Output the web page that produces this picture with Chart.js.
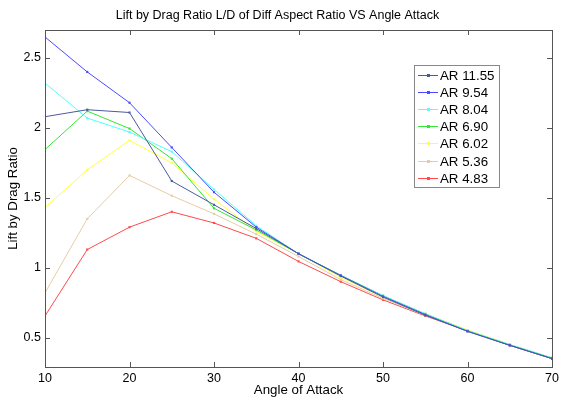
<!DOCTYPE html>
<html>
<head>
<meta charset="utf-8">
<script src="https://cdn.jsdelivr.net/npm/chart.js@4"></script>
<style>
  html, body { margin: 0; padding: 0; background: #fff; }
  #wrap { width: 563px; height: 402px; }
</style>
</head>
<body>
<div id="wrap"><canvas id="chart" width="563" height="402"></canvas></div>
<script>
// angle of attack (deg)
const angles = [10, 15, 20, 25, 30, 35, 40, 45, 50, 55, 60, 65, 70];

// L/D for each aspect ratio
const ar1155 = [2.08, 2.13, 2.11, 1.62, 1.45, 1.28, 1.10, 0.94, 0.79, 0.66, 0.545, 0.445, 0.35];
const ar954  = [2.65, 2.40, 2.18, 1.86, 1.54, 1.29, 1.10, 0.945, 0.795, 0.665, 0.545, 0.445, 0.35];
const ar804  = [2.32, 2.07, 1.97, 1.83, 1.56, 1.30, 1.10, 0.945, 0.80, 0.67, 0.55, 0.45, 0.355];
const ar690  = [1.845, 2.12, 1.995, 1.78, 1.425, 1.27, 1.10, 0.945, 0.80, 0.67, 0.55, 0.45, 0.355];
const ar602  = [1.43, 1.70, 1.91, 1.75, 1.49, 1.26, 1.10, 0.93, 0.79, 0.67, 0.555, 0.45, 0.355];
const ar536  = [0.82, 1.35, 1.66, 1.515, 1.385, 1.24, 1.08, 0.915, 0.78, 0.66, 0.55, 0.445, 0.35];
const ar483  = [0.655, 1.13, 1.29, 1.40, 1.32, 1.21, 1.045, 0.90, 0.77, 0.655, 0.55, 0.445, 0.35];

const seriesLabels = ['AR 11.55', 'AR 9.54', 'AR 8.04', 'AR 6.90', 'AR 6.02', 'AR 5.36', 'AR 4.83'];
const seriesValues = [ar1155, ar954, ar804, ar690, ar602, ar536, ar483];
const seriesColors = ['#4b5a9e', '#4a4aff', '#55ffff', '#33e633', '#ffff40', '#e6cca6', '#ff4a4a'];

const yTickValues = [0.5, 1, 1.5, 2, 2.5];
const xTickValues = [10, 20, 30, 40, 50, 60, 70];

const FONT = '"Liberation Sans", Arial, sans-serif';
const AXIS = '#555';

// MATLAB style box with inward ticks
const boxPlugin = {
  id: 'matlabBox',
  afterDraw: (chart) => {
    const ctx = chart.ctx;
    const { left, right, top, bottom } = chart.chartArea;
    const xs = chart.scales.x, ys = chart.scales.y;
    ctx.save();
    ctx.strokeStyle = AXIS;
    ctx.lineWidth = 1;
    ctx.strokeRect(Math.round(left) + 0.5, Math.round(top) + 0.5,
      Math.round(right - left), Math.round(bottom - top));
    ctx.beginPath();
    xTickValues.forEach(v => {
      const px = Math.round(xs.getPixelForValue(v)) + 0.5;
      ctx.moveTo(px, bottom); ctx.lineTo(px, bottom - 5);
      ctx.moveTo(px, top); ctx.lineTo(px, top + 5);
    });
    yTickValues.forEach(v => {
      const py = Math.round(ys.getPixelForValue(v)) + 0.5;
      ctx.moveTo(left, py); ctx.lineTo(left + 5, py);
      ctx.moveTo(right, py); ctx.lineTo(right - 5, py);
    });
    ctx.stroke();
    ctx.restore();
  }
};

// legend box inside the axes
const legendPlugin = {
  id: 'insideLegend',
  afterDraw: (chart) => {
    const ctx = chart.ctx;
    const bx = 414, by = 65, bw = 85, bh = 122;
    ctx.save();
    ctx.fillStyle = '#fff';
    ctx.fillRect(bx, by, bw, bh);
    ctx.strokeStyle = '#888';
    ctx.lineWidth = 1;
    ctx.strokeRect(bx + 0.5, by + 0.5, bw, bh);
    ctx.font = '13.3px ' + FONT;
    ctx.textBaseline = 'middle';
    chart.data.datasets.forEach((ds, i) => {
      const y = Math.round(by + 10 + i * 17.1) + 0.5;
      ctx.strokeStyle = ds.borderColor;
      ctx.beginPath();
      ctx.moveTo(bx + 4, y); ctx.lineTo(bx + 24, y);
      ctx.stroke();
      ctx.fillStyle = ds.borderColor;
      ctx.fillRect(bx + 13, y - 1.5, 3, 3);
      ctx.fillStyle = '#000';
      ctx.fillText(ds.label, bx + 26, y + 1);
    });
    ctx.restore();
  }
};

const datasets = seriesLabels.map((label, i) => ({
  label: label,
  data: angles.map((a, j) => ({ x: a, y: seriesValues[i][j] })),
  borderColor: seriesColors[i],
  backgroundColor: seriesColors[i],
  borderWidth: 1,
  pointStyle: 'rect',
  pointRadius: 1.5,
  pointBorderWidth: 0,
  tension: 0
}));

new Chart(document.getElementById('chart').getContext('2d'), {
  type: 'line',
  data: { datasets: datasets },
  options: {
    responsive: false,
    animation: false,
    layout: { padding: { left: 0, right: 8, top: 0, bottom: 0 } },
    plugins: {
      legend: { display: false },
      tooltip: { enabled: false },
      title: {
        display: true,
        text: 'Lift by Drag Ratio L/D of Diff Aspect Ratio VS Angle Attack',
        color: '#000',
        font: { family: FONT, size: 12.5, weight: 'normal' },
        padding: { top: 8, bottom: 7 }
      }
    },
    scales: {
      x: {
        type: 'linear',
        min: 10,
        max: 70,
        afterBuildTicks: (scale) => { scale.ticks = xTickValues.map(v => ({ value: v })); },
        afterFit: (scale) => { scale.height = 35; },
        grid: { display: false, drawTicks: false },
        border: { display: false },
        ticks: {
          color: '#000',
          padding: 4,
          maxRotation: 0,
          font: { family: FONT, size: 12.5 },
          callback: (v) => String(v)
        },
        title: {
          display: true,
          text: 'Angle of Attack',
          color: '#000',
          font: { family: FONT, size: 13.3 },
          padding: { top: 0, bottom: 4 }
        }
      },
      y: {
        type: 'linear',
        min: 0.29,
        max: 2.70,
        afterBuildTicks: (scale) => { scale.ticks = yTickValues.map(v => ({ value: v })); },
        afterFit: (scale) => { scale.width = 45; },
        grid: { display: false, drawTicks: false },
        border: { display: false },
        ticks: {
          color: '#000',
          padding: 4,
          font: { family: FONT, size: 12.5 },
          callback: (v) => String(v)
        },
        title: {
          display: true,
          text: 'Lift by Drag Ratio',
          color: '#000',
          font: { family: FONT, size: 13.3 },
          padding: { top: 5, bottom: 0 }
        }
      }
    }
  },
  plugins: [boxPlugin, legendPlugin]
});
</script>
</body>
</html>
